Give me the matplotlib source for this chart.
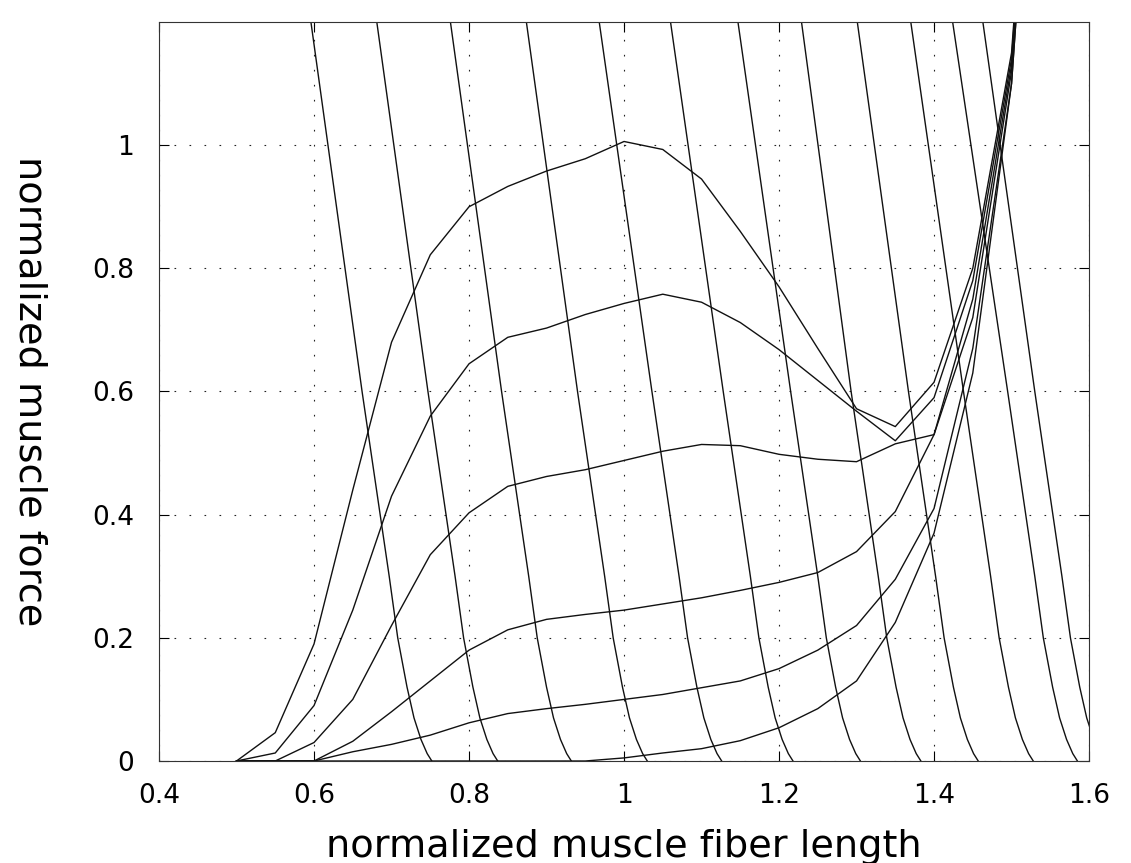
import matplotlib
matplotlib.use("Agg")
import matplotlib.pyplot as plt

# ---------------- data ----------------
fiber_length = [0.50, 0.55, 0.60, 0.65, 0.70, 0.75, 0.80, 0.85, 0.90, 0.95, 1.00,
                1.05, 1.10, 1.15, 1.20, 1.25, 1.30, 1.35, 1.40, 1.45, 1.50, 1.55]

force_act_100 = [0, 0.046, 0.19, 0.44, 0.68, 0.822, 0.90, 0.933, 0.958, 0.978, 1.006,
                 0.993, 0.945, 0.86, 0.77, 0.67, 0.572, 0.543, 0.615, 0.80, 1.15, 2.0]
force_act_075 = [0, 0.013, 0.09, 0.245, 0.43, 0.56, 0.645, 0.688, 0.703, 0.725, 0.743,
                 0.758, 0.745, 0.712, 0.668, 0.618, 0.568, 0.52, 0.59, 0.78, 1.14, 2.0]
force_act_050 = [0, 0, 0.03, 0.10, 0.22, 0.335, 0.403, 0.446, 0.462, 0.473, 0.488,
                 0.503, 0.514, 0.512, 0.498, 0.49, 0.486, 0.515, 0.53, 0.75, 1.13, 2.0]
force_act_025 = [0, 0, 0, 0.032, 0.08, 0.13, 0.18, 0.213, 0.23, 0.238, 0.245,
                 0.255, 0.265, 0.277, 0.29, 0.306, 0.34, 0.405, 0.53, 0.72, 1.12, 2.0]
force_act_010 = [0, 0, 0, 0.015, 0.027, 0.042, 0.062, 0.077, 0.085, 0.092, 0.10,
                 0.108, 0.119, 0.13, 0.15, 0.18, 0.22, 0.295, 0.41, 0.67, 1.10, 2.0]
force_passive = [0, 0, 0, 0, 0, 0, 0, 0, 0, 0, 0.005,
                 0.013, 0.02, 0.033, 0.054, 0.085, 0.13, 0.225, 0.37, 0.63, 1.10, 2.0]

# tendon lines: fiber length at each force level, one list per musculotendon length
tendon_force = [1.2, 0.6, 0.3, 0.2, 0.12, 0.07, 0.035, 0.012, 0.0]
tendon_01 = [0.596, 0.662, 0.697, 0.708, 0.720, 0.729, 0.738, 0.746, 0.752]
tendon_02 = [0.681, 0.747, 0.782, 0.793, 0.805, 0.814, 0.823, 0.831, 0.837]
tendon_03 = [0.776, 0.842, 0.877, 0.888, 0.900, 0.909, 0.918, 0.926, 0.932]
tendon_04 = [0.874, 0.940, 0.975, 0.986, 0.998, 1.007, 1.016, 1.024, 1.030]
tendon_05 = [0.968, 1.036, 1.071, 1.082, 1.094, 1.103, 1.112, 1.120, 1.126]
tendon_06 = [1.060, 1.128, 1.163, 1.174, 1.186, 1.195, 1.204, 1.212, 1.218]
tendon_07 = [1.147, 1.215, 1.250, 1.261, 1.273, 1.282, 1.291, 1.299, 1.305]
tendon_08 = [1.229, 1.293, 1.328, 1.339, 1.351, 1.360, 1.369, 1.377, 1.383]
tendon_09 = [1.301, 1.367, 1.402, 1.413, 1.425, 1.434, 1.443, 1.451, 1.457]
tendon_10 = [1.370, 1.438, 1.473, 1.484, 1.496, 1.505, 1.514, 1.522, 1.528]
tendon_11 = [1.424, 1.495, 1.530, 1.541, 1.553, 1.562, 1.571, 1.579, 1.585]
tendon_12 = [1.463, 1.530, 1.565, 1.576, 1.588, 1.597, 1.606, 1.614, 1.620]

x_ticks = [0.4, 0.6, 0.8, 1.0, 1.2, 1.4, 1.6]
x_tick_labels = ["0.4", "0.6", "0.8", "1", "1.2", "1.4", "1.6"]
y_ticks = [0, 0.2, 0.4, 0.6, 0.8, 1.0]
y_tick_labels = ["0", "0.2", "0.4", "0.6", "0.8", "1"]

# ---------------- figure ----------------
plt.rcParams['font.family'] = ['DejaVu Sans']
fig = plt.figure(figsize=(11.31, 8.63), dpi=100)
ax = fig.add_axes([0.1406, 0.1182, 0.8223, 0.8563])

line_kw = dict(color="#111111", lw=1.0)
for f in [force_act_100, force_act_075, force_act_050, force_act_025,
          force_act_010, force_passive]:
    ax.plot(fiber_length, f, **line_kw)

for t in [tendon_01, tendon_02, tendon_03, tendon_04, tendon_05, tendon_06,
          tendon_07, tendon_08, tendon_09, tendon_10, tendon_11, tendon_12]:
    ax.plot(t, tendon_force, **line_kw)

ax.set_xlim(0.4, 1.6)
ax.set_ylim(0, 1.2)
ax.set_xticks(x_ticks)
ax.set_xticklabels(x_tick_labels)
ax.set_yticks(y_ticks)
ax.set_yticklabels(y_tick_labels)
ax.tick_params(direction="in", length=7, width=0.8, top=True, right=True,
               labelsize=19, colors="black")
ax.tick_params(axis="x", pad=16)
ax.tick_params(axis="y", pad=18)
ax.grid(True, color="#222222", linestyle=(0, (1.5, 12)), linewidth=0.8)
for s in ax.spines.values():
    s.set_linewidth(0.8)
    s.set_color("#333333")

fig.text(0.5517, 0.0185, "normalized muscle fiber length", ha="center",
         va="center", fontsize=27.5)
fig.text(0.0265, 0.547, "normalized muscle force", ha="center", va="center",
         rotation=270, fontsize=27.5)

fig.savefig("out.png", dpi=100)
